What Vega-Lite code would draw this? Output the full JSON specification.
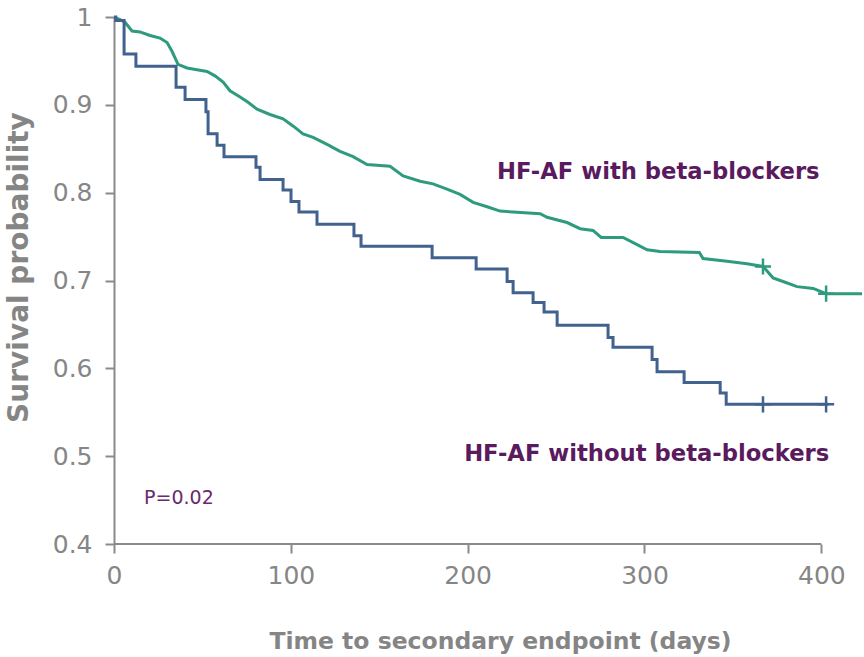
{
  "$schema": "https://vega.github.io/schema/vega-lite/v6.json",
  "width": 748,
  "height": 527,
  "autosize": {"type": "none"},
  "padding": {"left": 114, "top": 17, "right": 2, "bottom": 113},
  "background": "white",
  "config": {
    "view": {"stroke": null},
    "axis": {
      "grid": false,
      "labelFlush": false,
      "domainColor": "#8a8a8a",
      "domainWidth": 2,
      "tickColor": "#8a8a8a",
      "tickWidth": 2,
      "tickSize": 9,
      "labelFont": "DejaVu Sans",
      "labelFontSize": 25,
      "labelColor": "#868686",
      "titleFont": "DejaVu Sans",
      "titleFontWeight": "bold",
      "titleColor": "#858585"
    }
  },
  "datasets": {
    "curves": [
      {"group": "with", "t": 0, "s": 1.0},
      {"group": "with", "t": 3.4, "s": 0.997},
      {"group": "with", "t": 6.2, "s": 0.994},
      {"group": "with", "t": 10.2, "s": 0.984},
      {"group": "with", "t": 14.7, "s": 0.983},
      {"group": "with", "t": 20.4, "s": 0.979},
      {"group": "with", "t": 26.0, "s": 0.976},
      {"group": "with", "t": 30.0, "s": 0.971},
      {"group": "with", "t": 32.8, "s": 0.961},
      {"group": "with", "t": 36.2, "s": 0.946},
      {"group": "with", "t": 41.3, "s": 0.942},
      {"group": "with", "t": 46.9, "s": 0.940},
      {"group": "with", "t": 52.6, "s": 0.938},
      {"group": "with", "t": 57.1, "s": 0.933},
      {"group": "with", "t": 61.7, "s": 0.926},
      {"group": "with", "t": 65.6, "s": 0.916},
      {"group": "with", "t": 71.3, "s": 0.909},
      {"group": "with", "t": 75.8, "s": 0.903},
      {"group": "with", "t": 80.9, "s": 0.895},
      {"group": "with", "t": 88.2, "s": 0.889},
      {"group": "with", "t": 95.6, "s": 0.884},
      {"group": "with", "t": 101.2, "s": 0.876},
      {"group": "with", "t": 106.9, "s": 0.867},
      {"group": "with", "t": 112.6, "s": 0.863},
      {"group": "with", "t": 120.5, "s": 0.855},
      {"group": "with", "t": 127.8, "s": 0.847},
      {"group": "with", "t": 135.2, "s": 0.841},
      {"group": "with", "t": 143.1, "s": 0.832},
      {"group": "with", "t": 156.1, "s": 0.830},
      {"group": "with", "t": 163.5, "s": 0.819},
      {"group": "with", "t": 173.1, "s": 0.813},
      {"group": "with", "t": 180.4, "s": 0.810},
      {"group": "with", "t": 188.3, "s": 0.804},
      {"group": "with", "t": 195.7, "s": 0.798},
      {"group": "with", "t": 203.1, "s": 0.789},
      {"group": "with", "t": 211.0, "s": 0.784},
      {"group": "with", "t": 218.3, "s": 0.779},
      {"group": "with", "t": 225.7, "s": 0.778},
      {"group": "with", "t": 241.0, "s": 0.776},
      {"group": "with", "t": 244.9, "s": 0.772},
      {"group": "with", "t": 256.2, "s": 0.766},
      {"group": "with", "t": 263.6, "s": 0.759},
      {"group": "with", "t": 270.9, "s": 0.757},
      {"group": "with", "t": 275.5, "s": 0.749},
      {"group": "with", "t": 287.9, "s": 0.749},
      {"group": "with", "t": 294.7, "s": 0.742},
      {"group": "with", "t": 301.5, "s": 0.735},
      {"group": "with", "t": 308.8, "s": 0.733},
      {"group": "with", "t": 331.0, "s": 0.732},
      {"group": "with", "t": 333.1, "s": 0.725},
      {"group": "with", "t": 346.7, "s": 0.722},
      {"group": "with", "t": 358.0, "s": 0.719},
      {"group": "with", "t": 367.0, "s": 0.716},
      {"group": "with", "t": 372.7, "s": 0.703},
      {"group": "with", "t": 379.5, "s": 0.698},
      {"group": "with", "t": 386.3, "s": 0.693},
      {"group": "with", "t": 395.4, "s": 0.691},
      {"group": "with", "t": 402.7, "s": 0.685},
      {"group": "with", "t": 423.0, "s": 0.685},
      {"group": "without", "t": 0, "s": 1.0},
      {"group": "without", "t": 1.0, "s": 0.996},
      {"group": "without", "t": 5.7, "s": 0.958},
      {"group": "without", "t": 12.4, "s": 0.944},
      {"group": "without", "t": 35.1, "s": 0.920},
      {"group": "without", "t": 40.2, "s": 0.906},
      {"group": "without", "t": 52.0, "s": 0.892},
      {"group": "without", "t": 53.2, "s": 0.867},
      {"group": "without", "t": 58.3, "s": 0.854},
      {"group": "without", "t": 62.2, "s": 0.841},
      {"group": "without", "t": 80.3, "s": 0.829},
      {"group": "without", "t": 82.6, "s": 0.815},
      {"group": "without", "t": 95.6, "s": 0.803},
      {"group": "without", "t": 100.1, "s": 0.790},
      {"group": "without", "t": 104.6, "s": 0.778},
      {"group": "without", "t": 114.8, "s": 0.764},
      {"group": "without", "t": 135.7, "s": 0.751},
      {"group": "without", "t": 139.7, "s": 0.739},
      {"group": "without", "t": 179.9, "s": 0.726},
      {"group": "without", "t": 204.8, "s": 0.713},
      {"group": "without", "t": 222.3, "s": 0.699},
      {"group": "without", "t": 225.7, "s": 0.686},
      {"group": "without", "t": 237.0, "s": 0.675},
      {"group": "without", "t": 243.2, "s": 0.664},
      {"group": "without", "t": 250.6, "s": 0.649},
      {"group": "without", "t": 279.4, "s": 0.635},
      {"group": "without", "t": 282.2, "s": 0.624},
      {"group": "without", "t": 304.3, "s": 0.610},
      {"group": "without", "t": 307.1, "s": 0.596},
      {"group": "without", "t": 322.4, "s": 0.584},
      {"group": "without", "t": 342.8, "s": 0.572},
      {"group": "without", "t": 346.2, "s": 0.559},
      {"group": "without", "t": 404.0, "s": 0.559}
    ],
    "censor": [
      {"group": "with", "t": 367.0, "s": 0.716},
      {"group": "with", "t": 402.7, "s": 0.685},
      {"group": "without", "t": 367.0, "s": 0.559},
      {"group": "without", "t": 402.7, "s": 0.559}
    ],
    "labels": [
      {"t": 216.6, "s": 0.815, "text": "HF-AF with beta-blockers", "kind": "big"},
      {"t": 198.0, "s": 0.494, "text": "HF-AF without beta-blockers", "kind": "big"},
      {"t": 17.0, "s": 0.446, "text": "P=0.02", "kind": "small"}
    ],
    "axisline": [
      {"t0": 0, "t1": 400, "s": 0.4}
    ]
  },
  "encoding": {
    "x": {
      "field": "t", "type": "quantitative",
      "scale": {"domain": [0, 423], "nice": false, "zero": false},
      "axis": {
        "values": [0, 100, 200, 300, 400],
        "domain": false,
        "labelPadding": 10,
        "title": "Time to secondary endpoint (days)",
        "titleFontSize": 23.5,
        "titleX": 386,
        "titleY": 104,
        "titleBaseline": "alphabetic",
        "titleAlign": "center"
      }
    },
    "y": {
      "field": "s", "type": "quantitative",
      "scale": {"domain": [0.4, 1], "nice": false, "zero": false},
      "axis": {
        "values": [0.4, 0.5, 0.6, 0.7, 0.8, 0.9, 1],
        "labelExpr": "datum.value == 1 ? '1' : format(datum.value, '.1f')",
        "labelPadding": 13,
        "title": "Survival probability",
        "titleFontSize": 28,
        "titleX": -81,
        "titleY": 250,
        "titleAlign": "center",
        "titleBaseline": "bottom",
        "titleAngle": -90
      }
    }
  },
  "layer": [
    {
      "data": {"name": "curves"},
      "transform": [{"filter": "datum.group == 'with'"}],
      "mark": {"type": "line", "interpolate": "linear", "strokeWidth": 3, "color": "#2e9b7f"},
      "encoding": {}
    },
    {
      "data": {"name": "curves"},
      "transform": [{"filter": "datum.group == 'without'"}],
      "mark": {"type": "line", "interpolate": "step-after", "strokeWidth": 3, "color": "#41618f"},
      "encoding": {}
    },
    {
      "data": {"name": "censor"},
      "mark": {"type": "point", "shape": "M-1,0L1,0M0,-1L0,1", "filled": false, "strokeWidth": 2.5, "size": 260, "opacity": 1},
      "encoding": {
        "color": {
          "field": "group", "type": "nominal",
          "scale": {"domain": ["with", "without"], "range": ["#2e9b7f", "#41618f"]},
          "legend": null
        }
      }
    },
    {
      "data": {"name": "labels"},
      "transform": [{"filter": "datum.kind == 'big'"}],
      "mark": {"type": "text", "align": "left", "baseline": "alphabetic", "font": "DejaVu Sans", "fontWeight": "bold", "fontSize": 22.7, "color": "#5a1a5e"},
      "encoding": {
        "text": {"field": "text"}
      }
    },
    {
      "data": {"name": "labels"},
      "transform": [{"filter": "datum.kind == 'small'"}],
      "mark": {"type": "text", "align": "left", "baseline": "alphabetic", "font": "DejaVu Sans", "fontSize": 19, "color": "#6a2a6e"},
      "encoding": {
        "text": {"field": "text"}
      }
    },
    {
      "data": {"name": "axisline"},
      "mark": {"type": "rule", "color": "#8a8a8a", "strokeWidth": 2},
      "encoding": {
        "x": {"field": "t0", "type": "quantitative"},
        "x2": {"field": "t1"},
        "y": {"field": "s", "type": "quantitative"}
      }
    }
  ]
}
